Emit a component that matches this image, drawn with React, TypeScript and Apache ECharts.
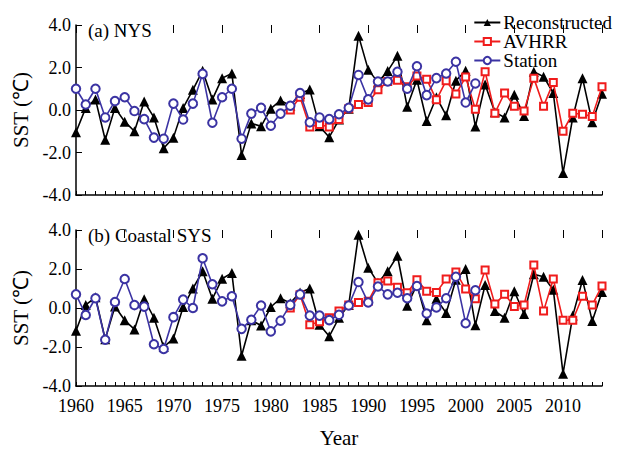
import React, { useEffect, useRef } from 'react';
import * as echarts from 'echarts';

const years = [
  1960, 1961, 1962, 1963, 1964, 1965, 1966, 1967, 1968, 1969,
  1970, 1971, 1972, 1973, 1974, 1975, 1976, 1977, 1978, 1979,
  1980, 1981, 1982, 1983, 1984, 1985, 1986, 1987, 1988, 1989,
  1990, 1991, 1992, 1993, 1994, 1995, 1996, 1997, 1998, 1999,
  2000, 2001, 2002, 2003, 2004, 2005, 2006, 2007, 2008, 2009,
  2010, 2011, 2012, 2013, 2014,
];
const avhrrStartYear = 1982;

// (a) NYS
const recNYS = [
  -1.05, 0.1, 0.5, -1.4, 0.1, -0.55, -1.0, 0.4, -0.35, -1.8,
  -1.3, 0.1, 0.95, 1.85, 0.5, 1.5, 1.72, -2.12, -0.63, -0.77,
  0.06, 0.45, 0.2, 0.75, 0.96, -0.77, -1.28, -0.45, 0.06, 3.5,
  1.9, 1.3, 1.83, 2.55, 0.15, 1.42, -0.52, 0.6, -0.25, 1.38,
  1.85, -0.78, 1.2, -0.1, -0.35, 0.72, -0.28, 1.8, 1.57, 0.8,
  -2.97, -0.35, 1.5, -0.58, 0.77,
];
const avhrrNYS = [
  0.0, 0.6, -0.8, -0.68, -0.8, -0.45, 0.06, 0.26,
  0.35, 0.95, 1.34, 1.4, 1.1, 1.6, 1.45, 0.48, 1.38, 0.75,
  1.55, 0.03, 1.8, -0.15, 0.8, 0.18, -0.05, 1.5, 0.18, 1.3,
  -1.0, -0.15, -0.2, -0.3, 1.1,
];
const stationNYS = [
  1.0, 0.26, 1.0, -0.35, 0.42, 0.6, -0.05, -0.43, -1.3, -1.35,
  0.3, -0.45, 0.3, 1.7, -0.6, 0.6, 1.0, -1.35, -0.17, 0.1,
  -0.74, -0.17, 0.2, 0.8, -0.58, -0.35, -0.43, -0.2, 0.1, 1.65,
  0.5, 1.34, 1.34, 1.8, 1.0, 2.06, 0.7, 1.5, 1.72, 2.27,
  0.35, 1.25,
];

// (b) Coastal SYS
const recSYS = [
  -1.17, 0.16, 0.55, -1.6, 0.08, -0.63, -1.1, 0.45, -0.5, -2.0,
  -1.57, 0.05, 1.0, 1.88, 0.47, 1.5, 1.8, -2.45, -0.63, -0.9,
  0.05, 0.5, 0.25, 0.8, 1.0, -0.86, -1.45, -0.5, 0.16, 3.76,
  2.07, 1.29, 1.88, 2.68, 0.12, 1.2, -0.63, 0.47, -0.26, 1.45,
  2.0, -0.88, 1.18, -0.16, -0.5, 0.86, -0.31, 1.73, 1.6, 0.94,
  -3.37, -0.39, 1.44, -0.67, 0.82,
];
const avhrrSYS = [
  0.0, 0.68, -0.86, -0.7, -0.5, -0.15, 0.16, 0.28,
  0.35, 1.29, 1.38, 1.07, 0.78, 1.45, 0.86, 0.8, 1.49, 1.85,
  0.97, 0.47, 1.95, 0.2, 0.7, 0.08, 0.16, 2.2, -0.16, 1.49,
  -0.63, -0.63, 0.6, 0.16, 1.13,
];
const stationSYS = [
  0.7, -0.36, 0.5, -1.63, 0.31, 1.49, 0.15, 0.07, -1.86, -2.1,
  -0.47, 0.43, 0.0, 2.55, 1.22, 0.34, 0.6, -1.07, -0.6, 0.13,
  -1.2, -0.65, 0.16, 0.7, -0.39, -0.39, -0.62, -0.35, 0.13, 1.33,
  0.28, 1.1, 0.7, 0.78, 0.5, 1.13, -0.28, 0.03, 0.5, 1.6,
  -0.78, 0.91,
];

const panelTitles = ['(a) NYS', '(b) Coastal SYS'];
const seriesNames = ['Reconstructed', 'AVHRR', 'Station'];
const yTicks = [-4, -2, 0, 2, 4];

const FONT = '"Liberation Serif", "Times New Roman", serif';
const RED = '#f01c1c';
const BLUE = '#3b33a3';

function pairs(startYear: number, vals: number[]) {
  const start = years.indexOf(startYear);
  return vals.map((v, i) => [years[start + i], v]);
}

function buildOption() {
  const grids = [
    { left: 76, right: 23, top: 25, height: 170 },
    { left: 76, right: 23, top: 230, height: 170 },
  ];
  const xAxis: any[] = [];
  const yAxis: any[] = [];
  grids.forEach((_, gi) => {
    xAxis.push({
      type: 'value', gridIndex: gi, min: years[0], max: years[years.length - 1], interval: 1,
      axisLine: { onZero: false, lineStyle: { color: '#000', width: 1.5 } },
      axisTick: { inside: true, length: 4, lineStyle: { color: '#000', width: 1 } },
      splitLine: { show: false },
      axisLabel: {
        show: gi === 1, color: '#000', fontFamily: FONT, fontSize: 18, margin: 11,
        formatter: (v: number) => (v % 5 === 0 ? String(v) : ''),
      },
      name: gi === 1 ? 'Year' : '', nameLocation: 'middle', nameGap: 41,
      nameTextStyle: { color: '#000', fontFamily: FONT, fontSize: 21 },
    });
    xAxis.push({
      type: 'value', gridIndex: gi, min: years[0], max: years[years.length - 1], interval: 5,
      axisLine: { show: false, onZero: false },
      axisTick: { inside: true, length: 8, lineStyle: { color: '#000', width: 1 } },
      axisLabel: { show: false }, splitLine: { show: false },
    });
    yAxis.push({
      type: 'value', gridIndex: gi, min: yTicks[0], max: yTicks[yTicks.length - 1], interval: 2,
      axisLine: { show: true, onZero: false, lineStyle: { color: '#000', width: 1.5 } },
      axisTick: { show: true, inside: true, length: 6, lineStyle: { color: '#000', width: 1 } },
      splitLine: { show: false },
      axisLabel: { color: '#000', fontFamily: FONT, fontSize: 18, margin: 5, formatter: (v: number) => v.toFixed(1) },
      name: 'SST (℃)', nameLocation: 'middle', nameRotate: 90, nameGap: 44,
      nameTextStyle: { color: '#000', fontFamily: FONT, fontSize: 21 },
    });
  });

  const panels = [
    [recNYS, avhrrNYS, stationNYS],
    [recSYS, avhrrSYS, stationSYS],
  ];
  const series: any[] = [];
  panels.forEach((p, gi) => {
    const common = { type: 'line', xAxisIndex: gi * 2, yAxisIndex: gi, z: 2 };
    series.push({
      ...common, name: seriesNames[0], data: pairs(years[0], p[0]),
      symbol: 'triangle', symbolSize: 10,
      lineStyle: { color: '#000', width: 1.6 }, itemStyle: { color: '#000' },
    });
    series.push({
      ...common, name: seriesNames[1], data: pairs(avhrrStartYear, p[1]), z: 3,
      symbol: 'emptyRect', symbolSize: 7,
      lineStyle: { color: RED, width: 1.6 }, itemStyle: { color: RED, borderWidth: 1.8 },
    });
    series.push({
      ...common, name: seriesNames[2], data: pairs(years[0], p[2]), z: 4,
      symbol: 'emptyCircle', symbolSize: 8.5,
      lineStyle: { color: BLUE, width: 1.6 }, itemStyle: { color: BLUE, borderWidth: 1.8 },
    });
  });

  return {
    animation: false,
    backgroundColor: '#fff',
    grid: grids,
    xAxis, yAxis, series,
    legend: {
      data: seriesNames, orient: 'vertical', right: 8, top: 8,
      itemWidth: 26, itemHeight: 9, itemGap: 0,
      textStyle: { color: '#000', fontFamily: FONT, fontSize: 19, padding: [0, 0, 0, -2] },
    },
    graphic: panelTitles.map((t, i) => ({
      type: 'text', left: 88, top: i === 0 ? 21 : 226,
      style: { text: t, font: `19px ${FONT}`, fill: '#000' },
    })),
  };
}

export default function App() {
  const ref = useRef<HTMLDivElement>(null);
  useEffect(() => {
    const chart = echarts.init(ref.current!, null, { renderer: 'svg' });
    chart.setOption(buildOption() as any);
    return () => chart.dispose();
  }, []);
  return (
    <div
      ref={ref}
      style={{ width: 625, height: 449, position: 'absolute', left: 0, top: 0, background: '#fff' }}
    />
  );
}
